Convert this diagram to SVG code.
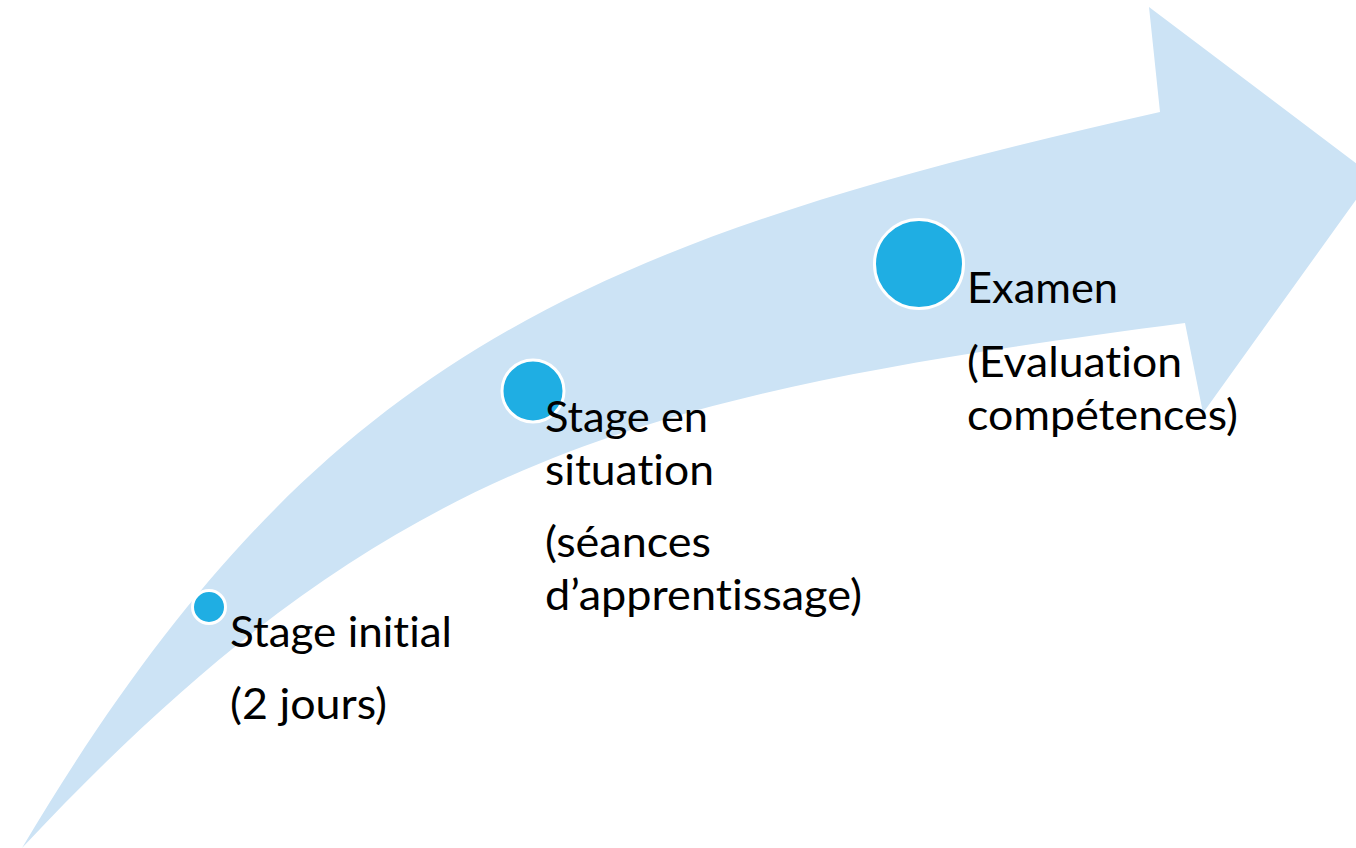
<svg xmlns="http://www.w3.org/2000/svg" width="1356" height="848" viewBox="0 0 1356 848">
<style>
.band{fill:#CCE3F5;stroke:none}
.dot{fill:#1FAEE3;stroke:#FFFFFF;stroke-width:3}
.lbl{font-family:Lato,"Open Sans","Liberation Sans",sans-serif;font-size:42px;fill:#000000;font-variant-ligatures:none;font-feature-settings:"liga" 0,"dlig" 0}
</style>
<rect width="1356" height="848" fill="#FFFFFF"/>
<g id="connectors">
<path class="band" d="M22,848 C312,360 576,244 1160,112 L1149,7 L1373,176 L1203,413 L1185,323 C636,395 390,455 22,848 Z"/>
</g>
<g id="node-stage-initial">
<circle class="dot" cx="209" cy="607" r="16.5"/>
<text class="lbl" x="230" y="647" textLength="222" lengthAdjust="spacingAndGlyphs">Stage initial</text>
<text class="lbl" x="230" y="719" textLength="157" lengthAdjust="spacingAndGlyphs">(2 jours)</text>
</g>
<g id="node-stage-situation">
<circle class="dot" cx="533" cy="391" r="31"/>
<text class="lbl" x="545" y="432" textLength="163" lengthAdjust="spacingAndGlyphs">Stage en</text>
<text class="lbl" x="545" y="485" textLength="169" lengthAdjust="spacingAndGlyphs">situation</text>
<text class="lbl" x="545" y="557" textLength="166" lengthAdjust="spacingAndGlyphs">(séances</text>
<text class="lbl" x="545" y="610" textLength="317" lengthAdjust="spacingAndGlyphs">d’apprentissage)</text>
</g>
<g id="node-examen">
<circle class="dot" cx="919" cy="264" r="44.5"/>
<text class="lbl" x="967" y="303" textLength="151" lengthAdjust="spacingAndGlyphs">Examen</text>
<text class="lbl" x="967" y="377" textLength="215" lengthAdjust="spacingAndGlyphs">(Evaluation</text>
<text class="lbl" x="967" y="430" textLength="271" lengthAdjust="spacingAndGlyphs">compétences)</text>
</g>
</svg>
